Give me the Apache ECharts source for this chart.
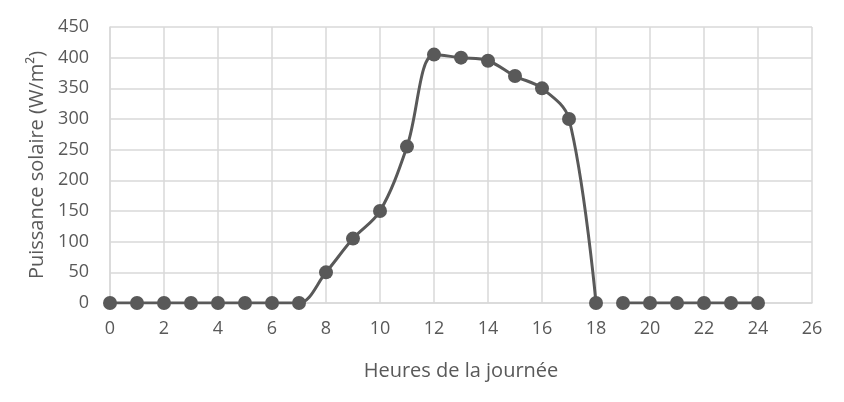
<!DOCTYPE html>
<html><head><meta charset="utf-8">
<script src="https://cdn.jsdelivr.net/npm/echarts@6/dist/echarts.min.js"></script>
<style>html,body{margin:0;padding:0;background:#fff}#c{width:844px;height:402px}</style>
</head><body><div id="c"></div>
<script>
const hoursDay = [0,1,2,3,4,5,6,7,8,9,10,11,12,13,14,15,16,17,18];
const powerDay = [0,0,0,0,0,0,0,0,50,105,150,255,405,400,395,370,350,300,0];
const hoursNight = [19,20,21,22,23,24];
const powerNight = [0,0,0,0,0,0];
const xTitle = 'Heures de la journée';
const yTitle = 'Puissance solaire (W/m²)';
const col = '#595959';
const font = 'Open Sans, Liberation Sans, sans-serif';
const chart = echarts.init(document.getElementById('c'), null, {renderer:'canvas'});
const mk = (xs, ys) => xs.map((x,i)=>[x, ys[i]]);
const seriesStyle = {
  type:'line', smooth:0.35, symbol:'circle', symbolSize:14,
  lineStyle:{color:col, width:3}, itemStyle:{color:col}, z:5, animation:false
};
chart.setOption({
  animation:false,
  grid:{left:110, right:32, top:27, bottom:99},
  xAxis:{type:'value', min:0, max:26, interval:2,
    name:xTitle, nameLocation:'middle', nameGap:58,
    nameTextStyle:{color:col, fontSize:20, fontFamily:font},
    axisLine:{show:true, lineStyle:{color:'#d9d9d9', width:1.5}},
    axisTick:{show:false},
    axisLabel:{color:col, fontSize:18, fontFamily:font, margin:17},
    splitLine:{show:true, lineStyle:{color:'#d9d9d9', width:1.5}}},
  yAxis:{type:'value', min:0, max:450, interval:50,
    name:yTitle, nameLocation:'middle', nameGap:60, nameRotate:90,
    nameTextStyle:{color:col, fontSize:20, fontFamily:font},
    axisLine:{show:true, lineStyle:{color:'#d9d9d9', width:1.5}},
    axisTick:{show:false},
    axisLabel:{color:col, fontSize:18, fontFamily:font, margin:21},
    splitLine:{show:true, lineStyle:{color:'#d9d9d9', width:1.5}}},
  series:[
    Object.assign({data:mk(hoursDay, powerDay)}, seriesStyle),
    Object.assign({data:mk(hoursNight, powerNight)}, seriesStyle)
  ]
});
</script></body></html>
